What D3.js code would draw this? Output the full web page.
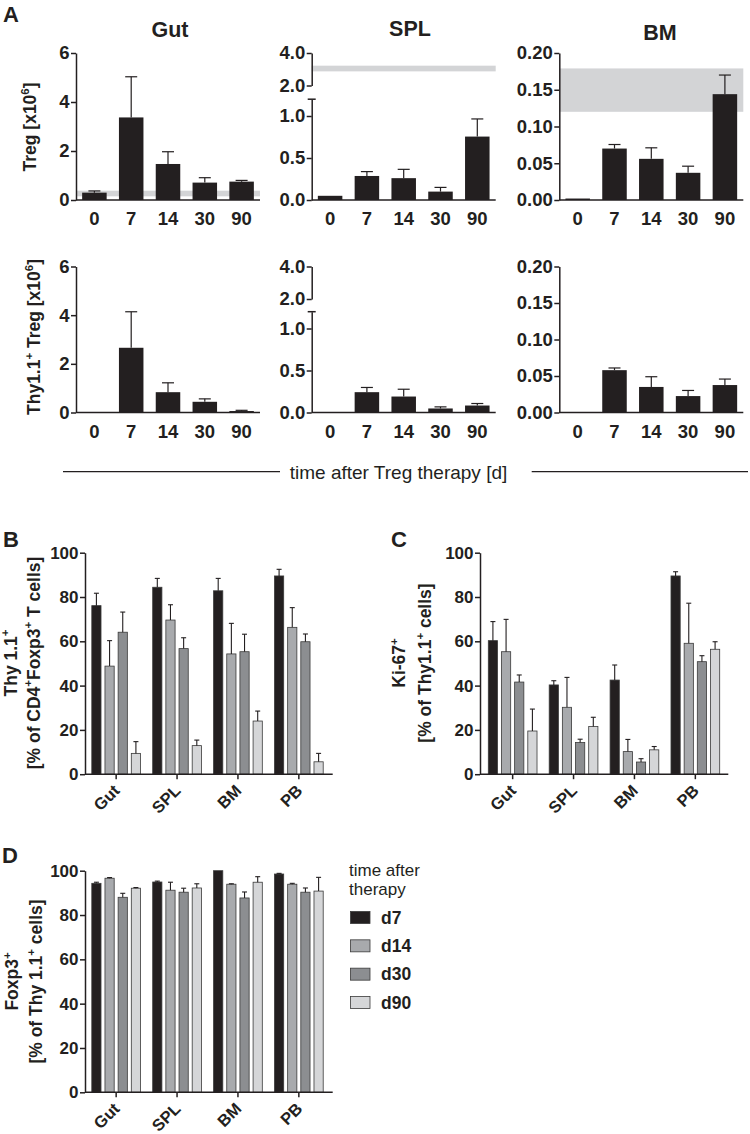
<!DOCTYPE html>
<html><head><meta charset="utf-8">
<script src="https://cdn.jsdelivr.net/npm/d3@7"></script>
<style>body{margin:0;background:#fff}svg{display:block}</style>
</head><body><svg id="c" width="750" height="1134"></svg>
<script>
// ================= DATA =================
const timepoints = ["0", "7", "14", "30", "90"];
const tissuesA = ["Gut", "SPL", "BM"];
// Panel A, row 1: Treg [x10^6] (mean, SEM)
const gutTreg = [0.30, 3.37, 1.47, 0.71, 0.75];
const gutTregSem = [0.07, 1.66, 0.50, 0.20, 0.05];
const splTreg = [0.05, 0.286, 0.26, 0.10, 0.755];
const splTregSem = [0.0, 0.052, 0.105, 0.05, 0.21];
const bmTreg = [0.002, 0.070, 0.056, 0.037, 0.144];
const bmTregSem = [0.0, 0.0055, 0.015, 0.009, 0.026];
// Panel A, row 2: Thy1.1+ Treg [x10^6]
const gutThy = [0, 2.66, 0.835, 0.44, 0.06];
const gutThySem = [0, 1.48, 0.385, 0.12, 0.03];
const splThy = [0, 0.242, 0.19, 0.048, 0.083];
const splThySem = [0, 0.056, 0.087, 0.019, 0.024];
const bmThy = [0, 0.058, 0.035, 0.0225, 0.0376];
const bmThySem = [0, 0.003, 0.014, 0.0077, 0.0082];
// normal-range bands (grey)
const gutNormal = [0.15, 0.38];
const splNormal = [2.87, 3.22];
const bmNormal = [0.12, 0.179];
// tick values
const gutTicks = [0, 2, 4, 6];
const splLowTicks = [0, 0.5, 1.0];
const splHighTicks = [2, 4];
const bmTicks = [0, 0.05, 0.10, 0.15, 0.20];
const pctTicks = [0, 20, 40, 60, 80, 100];

// Panels B-D
const organs = ["Gut", "SPL", "BM", "PB"];
const days = ["d7", "d14", "d30", "d90"];
const dayColors = ["#231f20", "#a8aaad", "#8c8e91", "#d5d6d8"];
// B: Thy1.1+ % of CD4+Foxp3+
const thyD7 = [76.1, 84.4, 82.8, 89.5];
const thyD14 = [48.8, 69.6, 54.3, 66.3];
const thyD30 = [64.1, 56.7, 55.3, 59.8];
const thyD90 = [9.4, 12.9, 24.0, 5.6];
const thyD7Sem = [5.6, 4.0, 5.6, 3.0];
const thyD14Sem = [11.5, 6.9, 13.8, 8.9];
const thyD30Sem = [9.1, 4.9, 7.9, 3.5];
const thyD90Sem = [5.3, 2.5, 4.5, 3.8];
// C: Ki-67+ % of Thy1.1+
const kiD7 = [60.3, 40.3, 42.5, 89.5];
const kiD14 = [55.3, 30.2, 10.2, 59.1];
const kiD30 = [41.6, 14.3, 5.5, 50.8];
const kiD90 = [19.5, 21.5, 11.0, 56.4];
const kiD7Sem = [8.6, 1.9, 6.8, 1.9];
const kiD14Sem = [14.6, 13.5, 5.5, 18.1];
const kiD30Sem = [3.2, 1.5, 1.5, 2.7];
const kiD90Sem = [9.9, 4.2, 1.5, 3.4];
// D: Foxp3+ % of Thy1.1+
const foxD7 = [94.3, 94.9, 100, 98.5];
const foxD14 = [96.6, 91.2, 93.9, 93.9];
const foxD30 = [88.0, 90.3, 87.7, 90.3];
const foxD90 = [92.1, 92.2, 94.8, 90.8];
const foxD7Sem = [0.5, 0.4, 0, 0.3];
const foxD14Sem = [0.3, 3.6, 0.2, 0.4];
const foxD30Sem = [1.8, 1.8, 2.7, 1.9];
const foxD90Sem = [0.3, 1.9, 2.5, 6.2];

// ================= DRAWING =================
const INK = "#231f20";
const FONT = "'Liberation Sans', Arial, Helvetica, sans-serif";
const svg = d3.select("#c");
svg.append("rect").attr("width", 750).attr("height", 1134).attr("fill", "#fff");

function styleAxis(g, fs) {
  g.attr("color", INK);
  g.select(".domain").attr("stroke-width", 1.5);
  g.selectAll(".tick line").attr("stroke-width", 1.5);
  g.selectAll(".tick text").style("font-size", fs + "px").style("font-weight", "bold").style("font-family", FONT);
}

function richText(parent, x, y, parts, o) {
  const t = parent.append("text")
    .attr("transform", `translate(${x},${y}) rotate(${o.rotate || 0})`)
    .attr("text-anchor", o.anchor || "middle")
    .attr("fill", INK)
    .style("font-family", FONT)
    .style("font-size", o.size + "px")
    .style("font-weight", o.weight || "bold");
  let shifted = false;
  parts.forEach(p => {
    const sp = t.append("tspan").text(p.t);
    if (p.sup) { sp.style("font-size", (o.size * 0.65) + "px").attr("dy", -o.size * 0.42); shifted = true; }
    else if (shifted) { sp.attr("dy", o.size * 0.42); shifted = false; }
  });
  return t;
}

// ---------- Panel A ----------
const colsA = [
  { ax: 76, title: [170, 36.5] },
  { ax: 311.7, title: [410, 36] },
  { ax: 559.3, title: [660, 40] }
];
const rowsA = [{ y0: 200, yTop: 53 }, { y0: 412.5, yTop: 266.5 }];
const aStep = 36.8;
const panelA = [
  [{ v: gutTreg, e: gutTregSem, band: gutNormal }, { v: splTreg, e: splTregSem, band: splNormal }, { v: bmTreg, e: bmTregSem, band: bmNormal }],
  [{ v: gutThy, e: gutThySem }, { v: splThy, e: splThySem }, { v: bmThy, e: bmThySem }]
];

rowsA.forEach((row, ri) => {
  colsA.forEach((col, ci) => {
    const d = panelA[ri][ci];
    const g = svg.append("g");
    const x = d3.scaleBand(timepoints, [col.ax, col.ax + 5 * aStep]).paddingInner(0.334).paddingOuter(0.167);
    let y, yUp = null, ticks, fmt;
    if (ci === 0) { y = d3.scaleLinear([0, 6], [row.y0, row.yTop]); ticks = gutTicks; fmt = d3.format("d"); }
    else if (ci === 1) {
      y = d3.scaleLinear([0, 1.2], [row.y0, row.y0 - 100.8]); ticks = splLowTicks; fmt = d3.format(".1f");
      yUp = d3.scaleLinear([2, 4], [row.yTop + 32.5, row.yTop]);
    } else { y = d3.scaleLinear([0, 0.2], [row.y0, row.yTop]); ticks = bmTicks; fmt = d3.format(".2f"); }

    if (d.band) {
      const ys = yUp || y;
      g.append("rect").attr("x", col.ax).attr("width", 5 * aStep)
        .attr("y", ys(d.band[1])).attr("height", ys(d.band[0]) - ys(d.band[1]))
        .attr("fill", "#d3d4d6");
    }
    g.selectAll(".bar").data(timepoints).join("rect")
      .attr("x", t => x(t)).attr("width", x.bandwidth())
      .attr("y", (t, i) => y(d.v[i])).attr("height", (t, i) => y(0) - y(d.v[i]))
      .attr("fill", INK);
    timepoints.forEach((t, i) => {
      if (!(d.e[i] > 0)) return;
      const cx = x(t) + x.bandwidth() / 2;
      const yt = y(d.v[i] + d.e[i]);
      g.append("line").attr("x1", cx).attr("x2", cx).attr("y1", y(d.v[i])).attr("y2", yt).attr("stroke", INK).attr("stroke-width", 1.2);
      g.append("line").attr("x1", cx - 6).attr("x2", cx + 6).attr("y1", yt).attr("y2", yt).attr("stroke", INK).attr("stroke-width", 1.2);
    });
    const ya = g.append("g").attr("transform", `translate(${col.ax},0)`)
      .call(d3.axisLeft(y).tickValues(ticks).tickFormat(fmt).tickSize(5).tickSizeOuter(0).tickPadding(1.5));
    styleAxis(ya, 18.5);
    if (yUp) {
      const yb = g.append("g").attr("transform", `translate(${col.ax},0)`)
        .call(d3.axisLeft(yUp).tickValues(splHighTicks).tickFormat(d3.format(".1f")).tickSize(5).tickSizeOuter(0).tickPadding(1.5));
      styleAxis(yb, 18.5);
      const capY = y(1.2);
      g.append("line").attr("x1", col.ax - 4).attr("x2", col.ax + 4).attr("y1", capY).attr("y2", capY).attr("stroke", INK).attr("stroke-width", 1.5);
    }
    const xa = g.append("g").attr("transform", `translate(0,${row.y0})`)
      .call(d3.axisBottom(x).tickSize(0).tickSizeOuter(0).tickPadding(12));
    styleAxis(xa, 18.5);
    xa.select(".domain").attr("d", `M${col.ax},0H${col.ax + 5 * aStep}`);

    if (ri === 0) {
      g.append("text").attr("x", col.title[0]).attr("y", col.title[1]).attr("text-anchor", "middle")
        .attr("fill", INK).style("font-family", FONT).style("font-size", "21.5px").style("font-weight", "bold")
        .text(tissuesA[ci]);
    }
  });
});

richText(svg, 36, 127, [{ t: "Treg [x10" }, { t: "6", sup: 1 }, { t: "]" }], { rotate: -90, size: 17.5 });
richText(svg, 40, 337, [{ t: "Thy1.1" }, { t: "+", sup: 1 }, { t: " Treg [x10" }, { t: "6", sup: 1 }, { t: "]" }], { rotate: -90, size: 17.5 });

svg.append("line").attr("x1", 63).attr("x2", 280).attr("y1", 471.7).attr("y2", 471.7).attr("stroke", INK).attr("stroke-width", 1.3);
svg.append("line").attr("x1", 531.7).attr("x2", 748).attr("y1", 471.7).attr("y2", 471.7).attr("stroke", INK).attr("stroke-width", 1.3);
svg.append("text").attr("x", 398.5).attr("y", 478.5).attr("text-anchor", "middle").attr("fill", INK)
  .style("font-family", FONT).style("font-size", "19px").text("time after Treg therapy [d]");

// ---------- Panels B, C, D ----------
const groupedPanels = [
  { axX: 85, axEnd: 332.7, gx0: 91.8, y0: 774.2, yTop: 552.7,
    vals: [thyD7, thyD14, thyD30, thyD90], sems: [thyD7Sem, thyD14Sem, thyD30Sem, thyD90Sem],
    l1: [{ t: "Thy 1.1" }, { t: "+", sup: 1 }], l2: [{ t: "[% of CD4" }, { t: "+", sup: 1 }, { t: "Foxp3" }, { t: "+", sup: 1 }, { t: " T cells]" }],
    l1x: 16.7, l2x: 39.5, ly: 663 },
  { axX: 480, axEnd: 728.3, gx0: 488.3, y0: 774.2, yTop: 552.7,
    vals: [kiD7, kiD14, kiD30, kiD90], sems: [kiD7Sem, kiD14Sem, kiD30Sem, kiD90Sem],
    l1: [{ t: "Ki-67" }, { t: "+", sup: 1 }], l2: [{ t: "[% of Thy1.1" }, { t: "+", sup: 1 }, { t: " cells]" }],
    l1x: 405, l2x: 431, ly: 663 },
  { axX: 85, axEnd: 332.7, gx0: 91.8, y0: 1092.3, yTop: 870.7,
    vals: [foxD7, foxD14, foxD30, foxD90], sems: [foxD7Sem, foxD14Sem, foxD30Sem, foxD90Sem],
    l1: [{ t: "Foxp3" }, { t: "+", sup: 1 }], l2: [{ t: "[% of Thy 1.1" }, { t: "+", sup: 1 }, { t: " cells]" }],
    l1x: 18, l2x: 42, ly: 981.5 }
];

groupedPanels.forEach(p => {
  const g = svg.append("g");
  const x = d3.scaleBand(organs, [p.gx0, p.gx0 + 231.4]).paddingInner(0.2).paddingOuter(0);
  const xs = d3.scaleBand(days, [0, x.bandwidth()]).paddingInner(0.3).paddingOuter(0);
  const y = d3.scaleLinear([0, 100], [p.y0, p.yTop]);

  days.forEach((dname, si) => {
    g.selectAll(null).data(organs).join("rect")
      .attr("x", o => x(o) + xs(dname)).attr("width", xs.bandwidth())
      .attr("y", (o, i) => y(p.vals[si][i])).attr("height", (o, i) => y(0) - y(p.vals[si][i]))
      .attr("fill", dayColors[si]).attr("stroke", "#3a3a3a").attr("stroke-width", 0.8);
    organs.forEach((o, i) => {
      const e = p.sems[si][i];
      if (!(e > 0)) return;
      const cx = x(o) + xs(dname) + xs.bandwidth() / 2;
      const yt = y(p.vals[si][i] + e);
      g.append("line").attr("x1", cx).attr("x2", cx).attr("y1", y(p.vals[si][i])).attr("y2", yt).attr("stroke", INK).attr("stroke-width", 1.1);
      g.append("line").attr("x1", cx - 2.5).attr("x2", cx + 2.5).attr("y1", yt).attr("y2", yt).attr("stroke", INK).attr("stroke-width", 1.1);
    });
  });

  const ya = g.append("g").attr("transform", `translate(${p.axX},0)`)
    .call(d3.axisLeft(y).tickValues(pctTicks).tickSize(5).tickSizeOuter(0).tickPadding(1.5));
  styleAxis(ya, 17);
  const xa = g.append("g").attr("transform", `translate(0,${p.y0})`)
    .call(d3.axisBottom(x).tickSize(5).tickSizeOuter(0));
  styleAxis(xa, 16.5);
  xa.select(".domain").attr("d", `M${p.axX},0H${p.axEnd}`);
  xa.selectAll(".tick text").attr("x", 0).attr("y", 0).attr("dy", null)
    .attr("text-anchor", "end").attr("transform", "translate(4.5,17.5) rotate(-45)");

  richText(svg, p.l1x, p.ly, p.l1, { rotate: -90, size: 17.5 });
  richText(svg, p.l2x, p.ly, p.l2, { rotate: -90, size: 17.5 });
});

// Legend (panel D)
const leg = svg.append("g");
leg.append("text").attr("x", 349).attr("y", 875.5).attr("fill", INK).style("font-family", FONT).style("font-size", "17px").text("time after");
leg.append("text").attr("x", 349).attr("y", 894.5).attr("fill", INK).style("font-family", FONT).style("font-size", "17px").text("therapy");
const legY = d3.scalePoint(days, [917.5, 1002.5]);
days.forEach((dname, i) => {
  leg.append("rect").attr("x", 350.5).attr("y", legY(dname) - 6).attr("width", 19.5).attr("height", 12)
    .attr("fill", dayColors[i]).attr("stroke", "#3a3a3a").attr("stroke-width", 0.8);
  leg.append("text").attr("x", 381).attr("y", legY(dname) + 6.3).attr("fill", INK)
    .style("font-family", FONT).style("font-size", "17.5px").style("font-weight", "bold").text(dname);
});

// panel letters
[["A", 3, 21.7], ["B", 3, 547], ["C", 391, 547], ["D", 2, 863]].forEach(([t, lx, ly]) => {
  svg.append("text").attr("x", lx).attr("y", ly).attr("fill", INK).style("font-family", FONT)
    .style("font-size", "22px").style("font-weight", "bold").text(t);
});
</script></body></html>
